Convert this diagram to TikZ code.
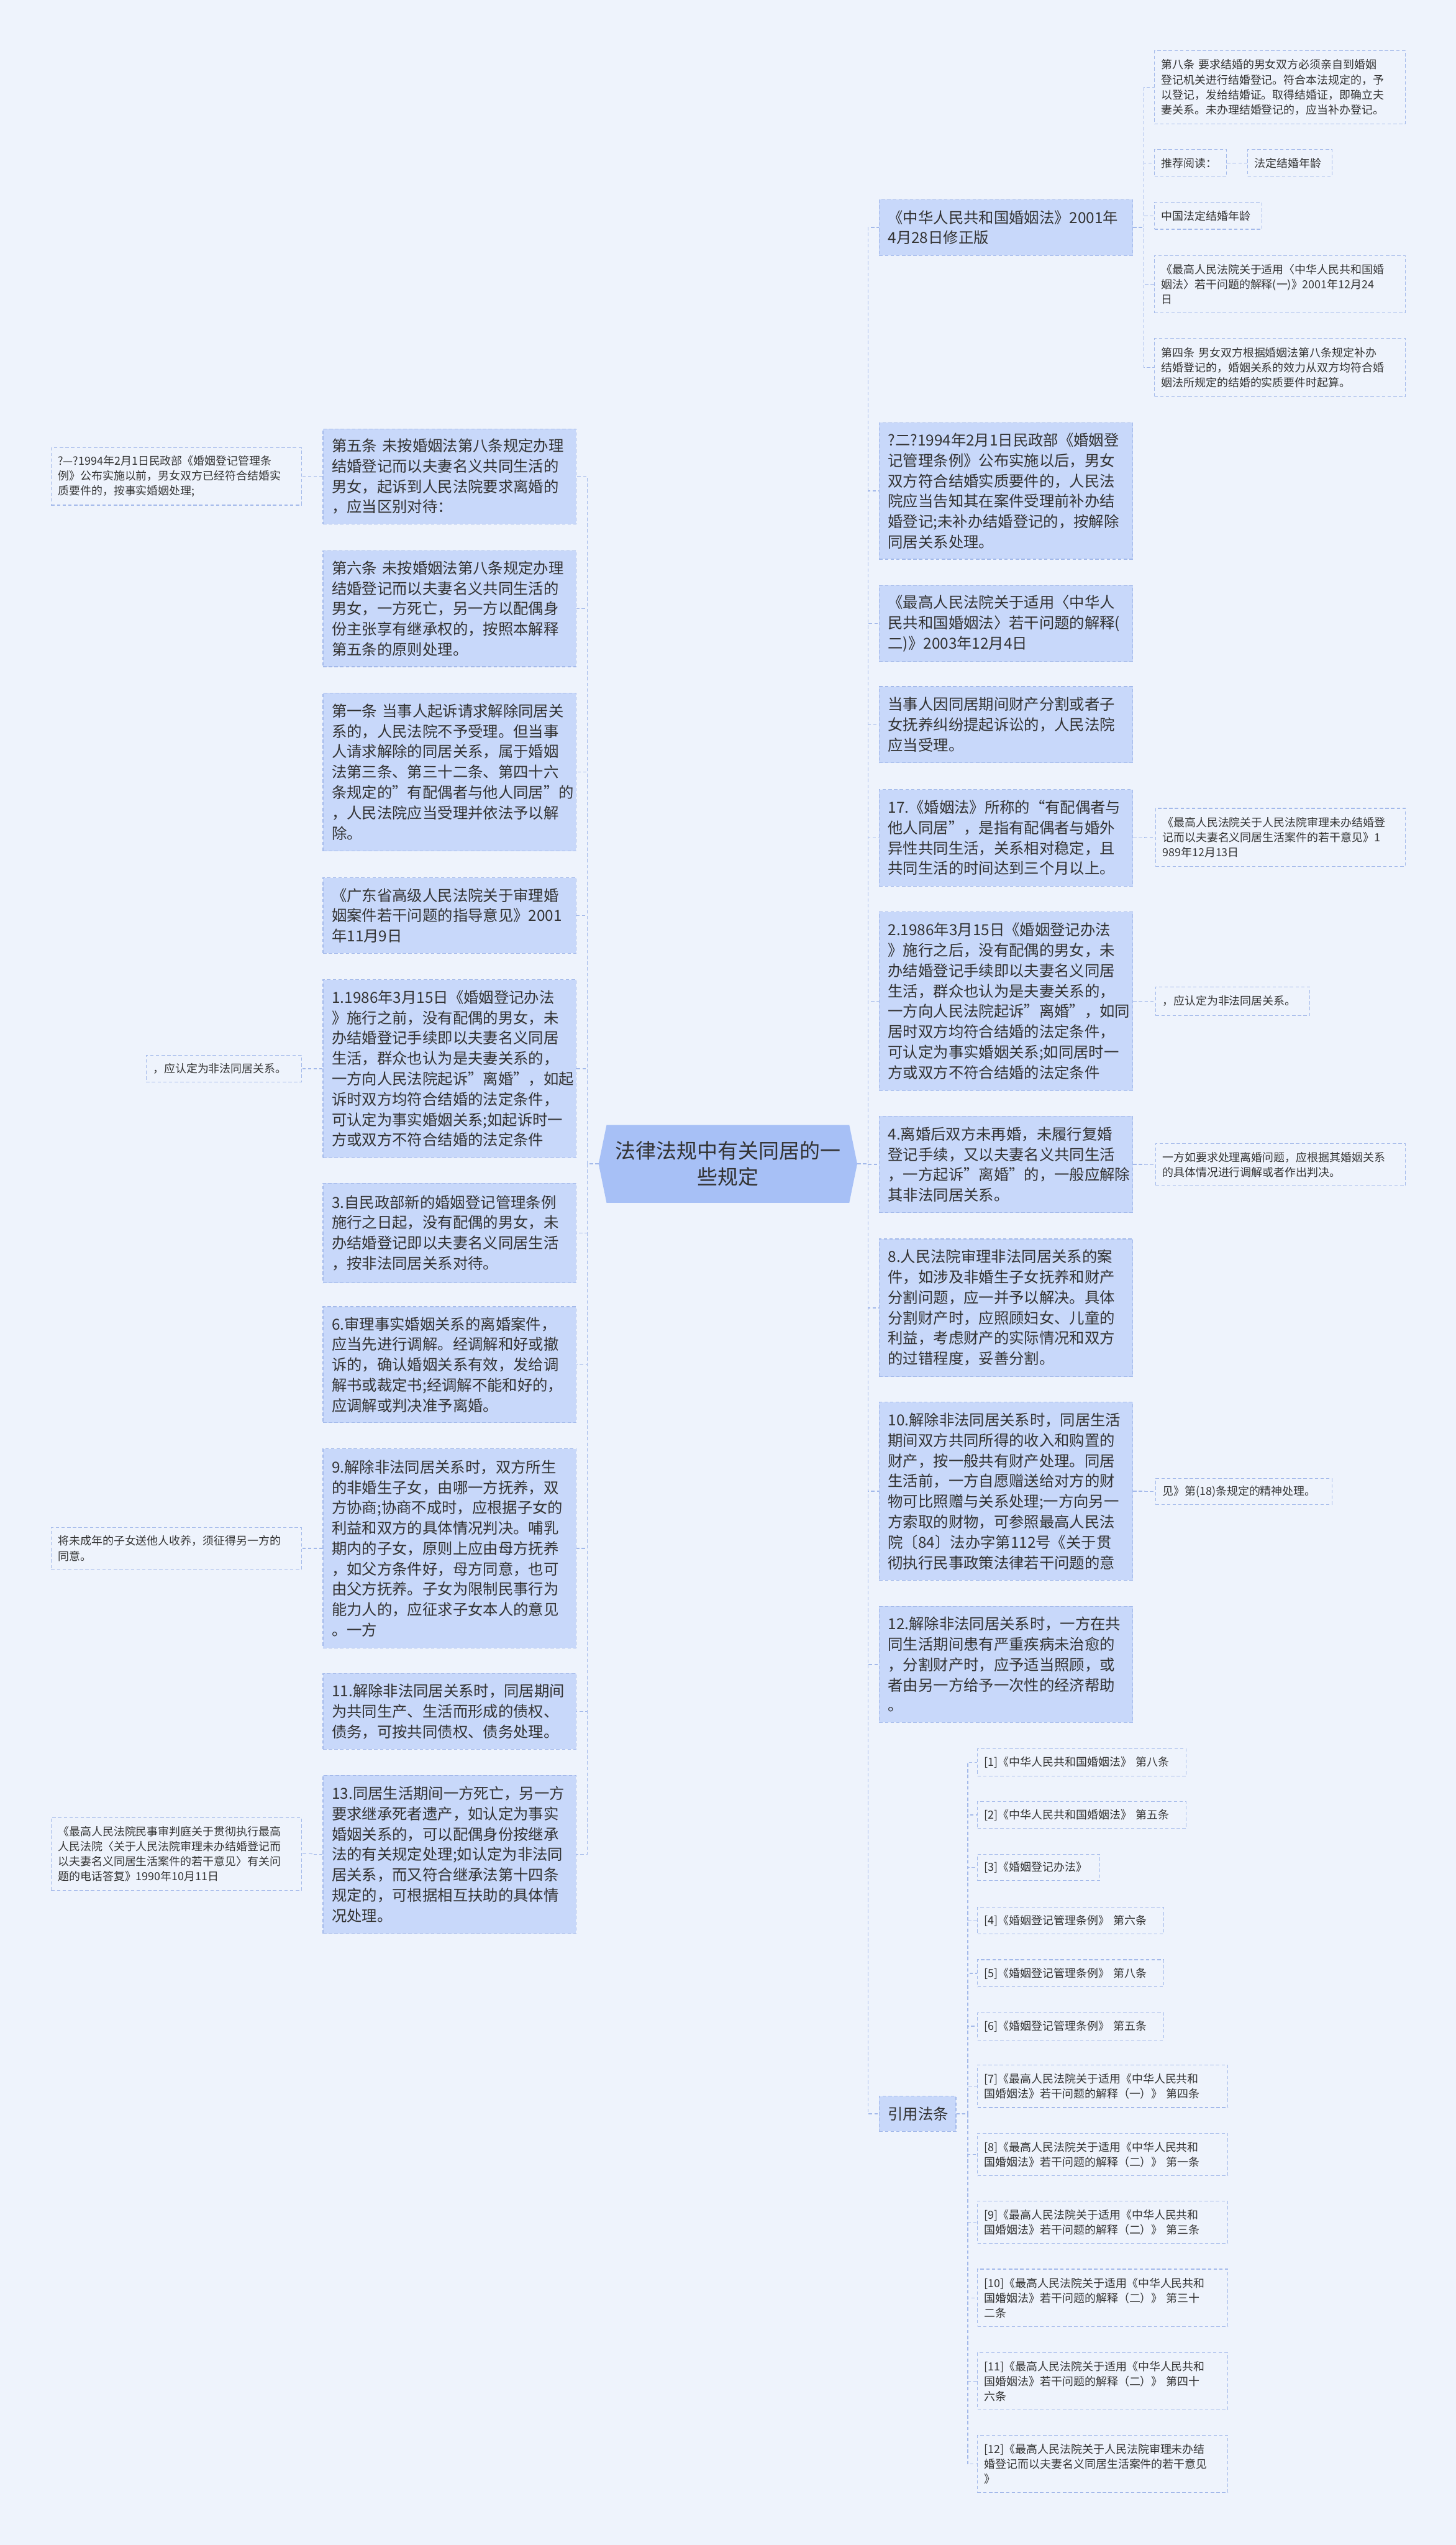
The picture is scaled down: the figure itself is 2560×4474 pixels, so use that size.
\documentclass[tikz,border=0pt]{standalone}
\usepackage{fontspec}
\setmainfont{Noto Sans CJK SC}
\usetikzlibrary{backgrounds}
\definecolor{bgc}{HTML}{EEF3FC}
\definecolor{nfill}{HTML}{C8D8FA}
\definecolor{nline}{HTML}{A3B9EA}
\definecolor{cfill}{HTML}{A7C0F6}
\definecolor{txt}{HTML}{333333}
\definecolor{connc}{HTML}{A3B9EA}
\tikzset{
 mainbox/.style={draw=nline, fill=nfill, dash pattern=on 3pt off 2pt, line width=0.6pt,
   font=\fontsize{13.3}{17.9}\selectfont, text=txt, align=left, inner ysep=2pt},
 farbox/.style={draw=nline, dash pattern=on 3pt off 2pt, line width=0.6pt,
   font=\fontsize{9.8}{13.2}\selectfont, text=txt, align=left, inner ysep=2pt},
 centerbox/.style={font=\fontsize{18}{22.8}\selectfont, text=txt, align=center},
 conn/.style={draw=connc, line width=0.8pt, dash pattern=on 3pt off 2pt},
}
% #1 pad(pt) #2 name #3 style #4 x1 #5 y1 #6 x2 #7 y2 #8 text  (pixel coords)
\newcommand\MBx[8][7.75]{%
 \pgfmathsetmacro\bxw{(#6-#4)*0.5}%
 \pgfmathsetmacro\bxh{(#7-#5)*0.5}%
 \pgfmathsetmacro\bxt{(#6-#4)*0.5-2*#1}%
 \node[#3, inner xsep=#1pt, minimum width=\bxw pt, minimum height=\bxh pt, text width=\bxt pt]
   (#2) at ({(#4+#6)/2},{(#5+#7)/2}) {#8};%
}
\begin{document}
\begin{tikzpicture}[x=0.5pt,y=-0.5pt]
\useasboundingbox (0,0) rectangle (2560,4474);

% center
\node[centerbox, minimum width=227pt, minimum height=68pt, text width=200pt, inner sep=0pt] (c) at (1280,2046) {法律法规中有关同居的一\\些规定};
\begin{scope}[on background layer]
 \fill[bgc] (0,0) rectangle (2560,4474);
 \fill[cfill] (c.west) -- ([xshift=7pt]c.north west) -- ([xshift=-7pt]c.north east) -- (c.east)
   -- ([xshift=-7pt]c.south east) -- ([xshift=7pt]c.south west) -- cycle;
\end{scope}

% left column
\MBx{L1}{mainbox}{568}{754}{1013}{921}{第五条~未按婚姻法第八条规定办理\\结婚登记而以夫妻名义共同生活的\\男女，起诉到人民法院要求离婚的\\，应当区别对待：}
\MBx{L2}{mainbox}{568}{968}{1013}{1172}{第六条~未按婚姻法第八条规定办理\\结婚登记而以夫妻名义共同生活的\\男女，一方死亡，另一方以配偶身\\份主张享有继承权的，按照本解释\\第五条的原则处理。}
\MBx{L3}{mainbox}{568}{1218}{1013}{1496}{第一条~当事人起诉请求解除同居关\\系的，人民法院不予受理。但当事\\人请求解除的同居关系，属于婚姻\\法第三条、第三十二条、第四十六\\条规定的"有配偶者与他人同居"的\\，人民法院应当受理并依法予以解\\除。}
\MBx{L4}{mainbox}{568}{1543}{1013}{1676}{《广东省高级人民法院关于审理婚\\姻案件若干问题的指导意见》2001\\年11月9日}
\MBx{L5}{mainbox}{568}{1722}{1013}{2035}{1.1986年3月15日《婚姻登记办法\\》施行之前，没有配偶的男女，未\\办结婚登记手续即以夫妻名义同居\\生活，群众也认为是夫妻关系的，\\一方向人民法院起诉"离婚"，如起\\诉时双方均符合结婚的法定条件，\\可认定为事实婚姻关系;如起诉时一\\方或双方不符合结婚的法定条件}
\MBx{L6}{mainbox}{568}{2080}{1013}{2255}{3.自民政部新的婚姻登记管理条例\\施行之日起，没有配偶的男女，未\\办结婚登记即以夫妻名义同居生活\\，按非法同居关系对待。}
\MBx{L7}{mainbox}{568}{2297}{1013}{2501}{6.审理事实婚姻关系的离婚案件，\\应当先进行调解。经调解和好或撤\\诉的，确认婚姻关系有效，发给调\\解书或裁定书;经调解不能和好的，\\应调解或判决准予离婚。}
\MBx{L8}{mainbox}{568}{2547}{1013}{2897}{9.解除非法同居关系时，双方所生\\的非婚生子女，由哪一方抚养，双\\方协商;协商不成时，应根据子女的\\利益和双方的具体情况判决。哺乳\\期内的子女，原则上应由母方抚养\\，如父方条件好，母方同意，也可\\由父方抚养。子女为限制民事行为\\能力人的，应征求子女本人的意见\\。一方}
\MBx{L9}{mainbox}{568}{2942}{1013}{3075}{11.解除非法同居关系时，同居期间\\为共同生产、生活而形成的债权、\\债务，可按共同债权、债务处理。}
\MBx{L10}{mainbox}{568}{3121}{1013}{3399}{13.同居生活期间一方死亡，另一方\\要求继承死者遗产，如认定为事实\\婚姻关系的，可以配偶身份按继承\\法的有关规定处理;如认定为非法同\\居关系，而又符合继承法第十四条\\规定的，可根据相互扶助的具体情\\况处理。}

% right column
\MBx{R1}{mainbox}{1546}{351}{1992}{449}{《中华人民共和国婚姻法》2001年\\4月28日修正版}
\MBx{R2}{mainbox}{1546}{743}{1992}{983}{?二?1994年2月1日民政部《婚姻登\\记管理条例》公布实施以后，男女\\双方符合结婚实质要件的，人民法\\院应当告知其在案件受理前补办结\\婚登记;未补办结婚登记的，按解除\\同居关系处理。}
\MBx{R3}{mainbox}{1546}{1029}{1992}{1163}{《最高人民法院关于适用〈中华人\\民共和国婚姻法〉若干问题的解释(\\二)》2003年12月4日}
\MBx{R4}{mainbox}{1546}{1207}{1992}{1341}{当事人因同居期间财产分割或者子\\女抚养纠纷提起诉讼的，人民法院\\应当受理。}
\MBx{R5}{mainbox}{1546}{1388}{1992}{1558}{17.《婚姻法》所称的“有配偶者与\\他人同居”，是指有配偶者与婚外\\异性共同生活，关系相对稳定，且\\共同生活的时间达到三个月以上。}
\MBx{R6}{mainbox}{1546}{1603}{1992}{1917}{2.1986年3月15日《婚姻登记办法\\》施行之后，没有配偶的男女，未\\办结婚登记手续即以夫妻名义同居\\生活，群众也认为是夫妻关系的，\\一方向人民法院起诉"离婚"，如同\\居时双方均符合结婚的法定条件，\\可认定为事实婚姻关系;如同居时一\\方或双方不符合结婚的法定条件}
\MBx{R7}{mainbox}{1546}{1962}{1992}{2132}{4.离婚后双方未再婚，未履行复婚\\登记手续，又以夫妻名义共同生活\\，一方起诉"离婚"的，一般应解除\\其非法同居关系。}
\MBx{R8}{mainbox}{1546}{2178}{1992}{2420}{8.人民法院审理非法同居关系的案\\件，如涉及非婚生子女抚养和财产\\分割问题，应一并予以解决。具体\\分割财产时，应照顾妇女、儿童的\\利益，考虑财产的实际情况和双方\\的过错程度，妥善分割。}
\MBx{R9}{mainbox}{1546}{2465}{1992}{2778}{10.解除非法同居关系时，同居生活\\期间双方共同所得的收入和购置的\\财产，按一般共有财产处理。同居\\生活前，一方自愿赠送给对方的财\\物可比照赠与关系处理;一方向另一\\方索取的财物，可参照最高人民法\\院〔84〕法办字第112号《关于贯\\彻执行民事政策法律若干问题的意}
\MBx{R10}{mainbox}{1546}{2824}{1992}{3028}{12.解除非法同居关系时，一方在共\\同生活期间患有严重疾病未治愈的\\，分割财产时，应予适当照顾，或\\者由另一方给予一次性的经济帮助\\。}
\MBx{R11}{mainbox}{1546}{3685}{1681}{3747}{引用法条}

% far right (children of R1)
\MBx[6]{F1}{farbox}{2030}{89}{2471}{218}{第八条~要求结婚的男女双方必须亲自到婚姻\\登记机关进行结婚登记。符合本法规定的，予\\以登记，发给结婚证。取得结婚证，即确立夫\\妻关系。未办理结婚登记的，应当补办登记。}
\MBx[6]{F2}{farbox}{2030}{263}{2157}{310}{推荐阅读：}
\MBx[6]{F2b}{farbox}{2194}{263}{2342}{310}{法定结婚年龄}
\MBx[6]{F3}{farbox}{2030}{356}{2219}{403}{中国法定结婚年龄}
\MBx[6]{F4}{farbox}{2030}{449}{2471}{550}{《最高人民法院关于适用〈中华人民共和国婚\\姻法〉若干问题的解释(一)》2001年12月24\\日}
\MBx[6]{F5}{farbox}{2030}{595}{2471}{697}{第四条~男女双方根据婚姻法第八条规定补办\\结婚登记的，婚姻关系的效力从双方均符合婚\\姻法所规定的结婚的实质要件时起算。}
% far right others
\MBx[6]{F6}{farbox}{2032}{1421}{2471}{1523}{《最高人民法院关于人民法院审理未办结婚登\\记而以夫妻名义同居生活案件的若干意见》1\\989年12月13日}
\MBx[6]{F7}{farbox}{2032}{1735}{2303}{1785}{，应认定为非法同居关系。}
\MBx[6]{F8}{farbox}{2032}{2010}{2471}{2085}{一方如要求处理离婚问题，应根据其婚姻关系\\的具体情况进行调解或者作出判决。}
\MBx[6]{F9}{farbox}{2032}{2599}{2342}{2645}{见》第(18)条规定的精神处理。}

% far left
\MBx[6]{G1}{farbox}{90}{787}{530}{888}{?—?1994年2月1日民政部《婚姻登记管理条\\例》公布实施以前，男女双方已经符合结婚实\\质要件的，按事实婚姻处理;}
\MBx[6]{G2}{farbox}{257}{1855}{530}{1902}{，应认定为非法同居关系。}
\MBx[6]{G3}{farbox}{90}{2685}{530}{2759}{将未成年的子女送他人收养，须征得另一方的\\同意。}
\MBx[6]{G4}{farbox}{90}{3195}{530}{3323}{《最高人民法院民事审判庭关于贯彻执行最高\\人民法院〈关于人民法院审理未办结婚登记而\\以夫妻名义同居生活案件的若干意见〉有关问\\题的电话答复》1990年10月11日}

% references
\MBx[6]{Q1}{farbox}{1719}{3074}{2086}{3122}{[1]《中华人民共和国婚姻法》~第八条}
\MBx[6]{Q2}{farbox}{1719}{3167}{2086}{3214}{[2]《中华人民共和国婚姻法》~第五条}
\MBx[6]{Q3}{farbox}{1719}{3260}{1934}{3306}{[3]《婚姻登记办法》}
\MBx[6]{Q4}{farbox}{1719}{3353}{2046}{3400}{[4]《婚姻登记管理条例》~第六条}
\MBx[6]{Q5}{farbox}{1719}{3445}{2046}{3493}{[5]《婚姻登记管理条例》~第八条}
\MBx[6]{Q6}{farbox}{1719}{3538}{2046}{3586}{[6]《婚姻登记管理条例》~第五条}
\MBx[6]{Q7}{farbox}{1719}{3630}{2159}{3705}{[7]《最高人民法院关于适用《中华人民共和\\国婚姻法》若干问题的解释（一）》~第四条}
\MBx[6]{Q8}{farbox}{1719}{3750}{2159}{3825}{[8]《最高人民法院关于适用《中华人民共和\\国婚姻法》若干问题的解释（二）》~第一条}
\MBx[6]{Q9}{farbox}{1719}{3869}{2159}{3944}{[9]《最高人民法院关于适用《中华人民共和\\国婚姻法》若干问题的解释（二）》~第三条}
\MBx[6]{Q10}{farbox}{1719}{3989}{2159}{4090}{[10]《最高人民法院关于适用《中华人民共和\\国婚姻法》若干问题的解释（二）》~第三十\\二条}
\MBx[6]{Q11}{farbox}{1719}{4136}{2159}{4236}{[11]《最高人民法院关于适用《中华人民共和\\国婚姻法》若干问题的解释（二）》~第四十\\六条}
\MBx[6]{Q12}{farbox}{1719}{4281}{2159}{4382}{[12]《最高人民法院关于人民法院审理未办结\\婚登记而以夫妻名义同居生活案件的若干意见\\》}

% connectors
\foreach \n in {L1,L2,L3,L4,L5,L6,L7,L8,L9,L10}
  \draw[conn] (c.west) -- ++(-20,0) |- (\n.east);
\foreach \n in {R1,R2,R3,R4,R5,R6,R7,R8,R9,R10,R11}
  \draw[conn] (c.east) -- ++(19,0) |- (\n.west);
\foreach \n in {F1,F2,F3,F4,F5}
  \draw[conn] (R1.east) -- ++(19,0) |- (\n.west);
\draw[conn] (F2.east) -- (F2b.west);
\draw[conn] (R5.east) -- ++(20,0) |- (F6.west);
\draw[conn] (R6.east) -- ++(20,0) |- (F7.west);
\draw[conn] (R7.east) -- ++(20,0) |- (F8.west);
\draw[conn] (R9.east) -- ++(20,0) |- (F9.west);
\draw[conn] (L1.west) -- ++(-19,0) |- (G1.east);
\draw[conn] (L5.west) -- ++(-19,0) |- (G2.east);
\draw[conn] (L8.west) -- ++(-19,0) |- (G3.east);
\draw[conn] (L10.west) -- ++(-19,0) |- (G4.east);
\foreach \n in {Q1,Q2,Q3,Q4,Q5,Q6,Q7,Q8,Q9,Q10,Q11,Q12}
  \draw[conn] (R11.east) -- ++(20,0) |- (\n.west);
\end{tikzpicture}
\end{document}
